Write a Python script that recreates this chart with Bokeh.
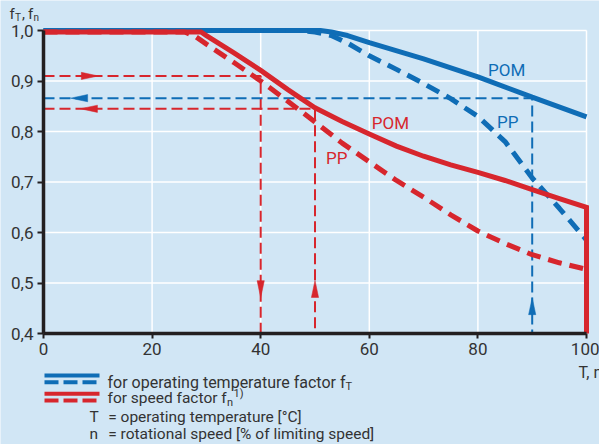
from bokeh.plotting import figure
from bokeh.models import Range1d, Label, FixedTicker, CustomJSTickFormatter
from bokeh.embed import file_html
from bokeh.resources import INLINE

# ---------------- data ----------------
# operating temperature factor fT (POM solid, PP dashed) vs T [°C]
pom_T_x = [0, 51, 53, 56, 60, 70, 80, 90, 100]
pom_T_y = [1.0, 1.0, 0.997, 0.99, 0.976, 0.944, 0.908, 0.868, 0.829]
pp_T_x = [0, 47, 50, 53, 56, 60, 65, 70, 75, 80, 85, 90, 95, 100]
pp_T_y = [1.0, 1.0, 0.997, 0.99, 0.975, 0.95, 0.923, 0.895, 0.865, 0.83, 0.78, 0.708, 0.648, 0.585]
# speed factor fn (POM solid, PP dashed) vs n [% of limiting speed]
pom_n_x = [0, 29, 30, 35, 40, 45, 50, 55, 60, 65, 70, 75, 80, 85, 90, 95, 100, 100]
pom_n_y = [0.997, 0.997, 0.99, 0.956, 0.921, 0.883, 0.847, 0.82, 0.795, 0.771, 0.751, 0.734,
           0.719, 0.703, 0.685, 0.667, 0.65, 0.4]
pp_n_x = [0, 26, 28, 30, 35, 40, 45, 50, 55, 60, 65, 70, 75, 80, 85, 90, 95, 100]
pp_n_y = [0.997, 0.997, 0.988, 0.973, 0.937, 0.9, 0.86, 0.819, 0.777, 0.74, 0.703, 0.67,
          0.635, 0.603, 0.578, 0.556, 0.54, 0.527]
# reading examples (reference lines)
ref_blue = (90, 0.866)
ref_red_a = (40, 0.91)
ref_red_b = (50, 0.845)

x_ticks = [0, 20, 40, 60, 80, 100]
y_ticks = [0.4, 0.5, 0.6, 0.7, 0.8, 0.9, 1.0]

# ---------------- style / layout ----------------
BG = "#d1e6f5"
BLUE = "#0f6db6"
RED = "#d7262d"
AX = "#231f20"
TXT = "#333333"
FONT = "Roboto"

W, H = 599, 444
LEFT, RIGHT = 43, 586      # pixel of x=0 and x=100
TOP, BOTTOM = 30, 333      # pixel of y=1.0 and y=0.4
PXX = (RIGHT - LEFT) / 100.0
PXY = (BOTTOM - TOP) / 0.6
X0 = -LEFT / PXX
X1 = X0 + W / PXX
Y1 = 1.0 + TOP / PXY
Y0 = Y1 - H / PXY
BASE_FIX = 4.0   # alphabetic baseline correction (px)


def X(px):
    return X0 + px / PXX


def Y(py):
    return Y1 - py / PXY


p = figure(width=W, height=H, min_border=0, x_range=Range1d(X0, X1), y_range=Range1d(Y0, Y1),
           output_backend="svg", toolbar_location=None)
p.background_fill_color = BG
p.border_fill_color = BG
p.outline_line_color = None
p.grid.visible = False

# grid
p.segment(x0=x_ticks, y0=[0.4] * len(x_ticks), x1=x_ticks, y1=[1.0] * len(x_ticks),
          line_color="white", line_width=1.5)
p.segment(x0=[0] * len(y_ticks), y0=y_ticks, x1=[100] * len(y_ticks), y1=y_ticks,
          line_color="white", line_width=1.5)

# reference (reading) lines
for (rx, ry), col in ((ref_red_a, RED), (ref_red_b, RED), (ref_blue, BLUE)):
    p.line([0, rx, rx], [ry, ry, 0.4], line_color=col, line_width=2, line_dash="11 5")

# arrowheads: (tip x, tip y, direction, colour)
arrow_tips = [(10.1, ref_red_a[1], "right", RED), (6.8, ref_red_b[1], "left", RED),
              (5.0, ref_blue[1], "left", BLUE),
              (ref_red_a[0], 0.471, "down", RED), (ref_red_b[0], 0.505, "up", RED),
              (ref_blue[0], 0.471, "up", BLUE)]
L, HW = 17, 3.6
xs, ys, cs = [], [], []
for tx, ty, d, c in arrow_tips:
    if d == "right":
        xs.append([tx, tx - L / PXX, tx - L / PXX]); ys.append([ty, ty + HW / PXY, ty - HW / PXY])
    elif d == "left":
        xs.append([tx, tx + L / PXX, tx + L / PXX]); ys.append([ty, ty + HW / PXY, ty - HW / PXY])
    elif d == "down":
        xs.append([tx, tx - HW / PXX, tx + HW / PXX]); ys.append([ty, ty + L / PXY, ty + L / PXY])
    else:
        xs.append([tx, tx - HW / PXX, tx + HW / PXX]); ys.append([ty, ty - L / PXY, ty - L / PXY])
    cs.append(c)
p.patches(xs, ys, fill_color=cs, line_color=cs, line_width=0.5)

# main curves
p.line(pom_T_x, pom_T_y, line_color=BLUE, line_width=5)
p.line(pp_T_x, pp_T_y, line_color=BLUE, line_width=5, line_dash="14 8")
p.line(pp_n_x, pp_n_y, line_color=RED, line_width=5, line_dash="14 8")
p.line(pom_n_x, pom_n_y, line_color=RED, line_width=5, line_join="miter")

# axes, fixed at x=0 / y=0.4
for ax in (p.xaxis[0], p.yaxis[0]):
    ax.axis_line_color = AX
    ax.axis_line_width = 3.5
    ax.major_tick_line_color = AX
    ax.major_tick_line_width = 2
    ax.major_tick_in = 0
    ax.minor_tick_line_color = None
    ax.major_label_text_font = FONT
    ax.major_label_text_font_size = "17px"
    ax.major_label_text_color = TXT
p.xaxis.fixed_location = 0.4
p.yaxis.fixed_location = 0
p.xaxis.ticker = FixedTicker(ticks=x_ticks)
p.yaxis.ticker = FixedTicker(ticks=y_ticks)
p.xaxis.bounds = (0, 100)
p.yaxis.bounds = (0.4, 1.0)
p.xaxis.major_tick_out = 5
p.yaxis.major_tick_out = 6
p.xaxis.major_label_standoff = 4
p.yaxis.major_label_standoff = 4
p.yaxis.formatter = CustomJSTickFormatter(code="return tick.toFixed(1).replace('.', ',');")


def lab(x, y, t, size="17px", color=TXT, align="left", baseline="alphabetic"):
    p.add_layout(Label(x=x, y=y, text=t, text_font=FONT, text_font_size=size,
                       text_color=color, text_align=align, text_baseline=baseline))


def tlab(px, py, t, size="15.5px"):
    # text placed by its pixel baseline position
    lab(X(px), Y(py - BASE_FIX), t, size=size)


# curve labels
lab(85.3, 0.921, "POM", color=BLUE, align="center", baseline="middle")
lab(85.5, 0.818, "PP", color=BLUE, align="center", baseline="middle")
lab(63.9, 0.816, "POM", color=RED, align="center", baseline="middle")
lab(54.0, 0.747, "PP", color=RED, align="center", baseline="middle")

# y axis title  f_T, f_n
tlab(9, 17.3, "f", size="15px")
tlab(14.5, 20.5, "T", size="10px")
tlab(21.5, 17.3, ",", size="15px")
tlab(27.5, 17.3, "f", size="15px")
tlab(33, 20.5, "n", size="10px")
# x axis title
tlab(578, 376, "T, n", size="16px")

# legend samples
leg_x = [X(44), X(99)]
for py, col, dash in ((375, BLUE, "solid"), (381.7, BLUE, "14 5"),
                      (393.3, RED, "solid"), (400, RED, "14 5")):
    p.line(leg_x, [Y(py), Y(py)], line_color=col, line_width=4, line_dash=dash)

tlab(107, 385.7, "for operating temperature factor f", size="16px")
tlab(345, 390, "T", size="11px")
tlab(107, 401.7, "for speed factor f")
tlab(226.5, 406, "n", size="11px")
tlab(233, 397, "1)", size="11px")
tlab(89, 420.7, "T")
tlab(107.7, 420.7, "= operating temperature [°C]")
tlab(89, 437, "n")
tlab(107.7, 437, "= rotational speed [% of limiting speed]")

open("out.html", "w").write(file_html(p, INLINE))
